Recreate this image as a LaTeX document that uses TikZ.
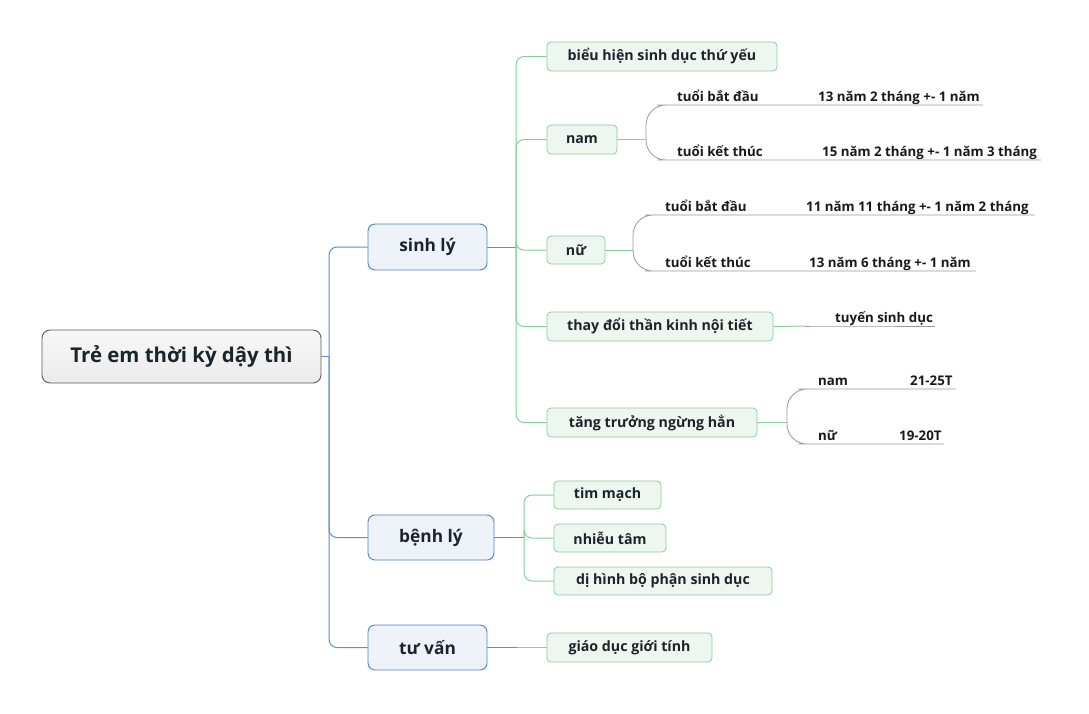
\documentclass[tikz,border=0pt]{standalone}
\usepackage{fontspec}
\setmainfont{Open Sans}
\usetikzlibrary{calc}
\definecolor{txt}{HTML}{1A252B}
\definecolor{bline}{HTML}{5B8FCF}
\definecolor{bdraw}{HTML}{4F82C0}
\definecolor{bfill}{HTML}{EEF3FA}
\definecolor{gline}{HTML}{86CF9C}
\definecolor{gdraw}{HTML}{8CCB9E}
\definecolor{gfill}{HTML}{EEF6F0}
\definecolor{grayline}{HTML}{9A9A9A}
\tikzset{
  rootbox/.style={draw=black!65, line width=0.9pt, rounded corners=8pt, top color=black!3, bottom color=black!8, font=\fontsize{20.4}{24}\selectfont\bfseries, text=txt, inner sep=0pt},
  bluebox/.style={draw=bdraw, line width=0.9pt, rounded corners=7pt, fill=bfill, font=\fontsize{17.3}{20}\selectfont\bfseries, text=txt, inner sep=0pt},
  greenbox/.style={draw=gdraw, line width=0.8pt, rounded corners=4pt, fill=gfill, font=\fontsize{14.2}{17}\selectfont\bfseries, text=txt, inner sep=0pt},
  graylab/.style={anchor=south west, inner xsep=0pt, inner ysep=0pt, text depth=3pt, font=\fontsize{13.3}{15}\selectfont\bfseries, text=black!90},
  blink/.style={draw=bline, line width=1pt, rounded corners=8pt},
  glink/.style={draw=gline, line width=1pt, rounded corners=8pt},
  graylink/.style={draw=grayline, line width=0.8pt, rounded corners=20pt},
}
\begin{document}
\begin{tikzpicture}[x=1pt,y=-1pt]
\useasboundingbox (0,0) rectangle (1089,713);
% root and level 1
\node[rootbox, minimum width=279pt, minimum height=53pt] (root) at (181.5,356.5) {Trẻ em thời kỳ dậy thì};
\node[bluebox, minimum width=119pt, minimum height=46pt] (sl) at (427.5,247) {sinh lý};
\node[bluebox, minimum width=126pt, minimum height=45pt] (bl) at (431,537.5) {bệnh lý};
\node[bluebox, minimum width=119pt, minimum height=45pt] (tv) at (427.5,647.5) {tư vấn};
% level 2
\node[greenbox, minimum width=230pt, minimum height=29pt] (bh) at (662,56.5) {biểu hiện sinh dục thứ yếu};
\node[greenbox, minimum width=70pt, minimum height=29pt] (nam) at (582,139.5) {nam};
\node[greenbox, minimum width=58pt, minimum height=28pt] (nu) at (576,250) {nữ};
\node[greenbox, minimum width=226pt, minimum height=29pt] (td) at (660,326.5) {thay đổi thần kinh nội tiết};
\node[greenbox, minimum width=210pt, minimum height=29pt] (tt) at (652,422.5) {tăng trưởng ngừng hẳn};
\node[greenbox, minimum width=107pt, minimum height=28pt] (tm) at (607.5,495) {tim mạch};
\node[greenbox, minimum width=112pt, minimum height=28pt] (nt) at (610,538) {nhiễu tâm};
\node[greenbox, minimum width=218pt, minimum height=28pt] (dh) at (663,581) {dị hình bộ phận sinh dục};
\node[greenbox, minimum width=165pt, minimum height=29pt] (gd) at (629.5,647.5) {giáo dục giới tính};
% level 3 labels
\node[graylab] (n1) at (677,105) {tuổi bắt đầu};
\node[graylab] (n1v) at (818,105) {13 năm 2 tháng +- 1 năm};
\node[graylab] (n2) at (677,160) {tuổi kết thúc};
\node[graylab] (n2v) at (822,160) {15 năm 2 tháng +- 1 năm 3 tháng};
\node[graylab] (f1) at (665,215) {tuổi bắt đầu};
\node[graylab] (f1v) at (806,215) {11 năm 11 tháng +- 1 năm 2 tháng};
\node[graylab] (f2) at (665,271) {tuổi kết thúc};
\node[graylab] (f2v) at (809,271) {13 năm 6 tháng +- 1 năm};
\node[graylab] (ts) at (835,326) {tuyến sinh dục};
\node[graylab] (g1) at (818,389) {nam};
\node[graylab] (g1v) at (910,389) {21-25T};
\node[graylab] (g2) at (818,444) {nữ};
\node[graylab] (g2v) at (899,444) {19-20T};
% junctions
\coordinate (rj) at (329,356.5);
\coordinate (sj) at (516,247);
\coordinate (bj) at (524,537.5);
\coordinate (namj) at (646,139.5);
\coordinate (nuj) at (633,250);
\coordinate (tdj) at (805,326);
\coordinate (ttj) at (787,422.5);
% blue links
\draw[blink] (root.east) -- (rj);
\draw[blink] (rj) |- (sl.west);
\draw[blink] (rj) |- (bl.west);
\draw[blink] (rj) |- (tv.west);
\draw[blink] (sl.east) -- (sj);
\draw[blink] (bl.east) -- (bj);
\draw[draw=bline, line width=1pt] (tv.east) -- ($(tv.east)+(30,0)$) coordinate (tvj);
% green links
\foreach \c in {bh,nam,nu,td,tt} \draw[glink] (sj) |- (\c.west);
\foreach \c in {tm,nt,dh} \draw[glink] (bj) |- (\c.west);
\draw[glink] (tvj) -- (gd.west);
\draw[glink] (nam.east) -- (namj);
\draw[glink] (nu.east) -- (nuj);
\draw[glink] (td.east) -- (tdj);
\draw[glink] (tt.east) -- (ttj);
% gray links
\draw[graylink] (namj) |- (n1.south west) -- ($(n1v.south east)+(3,0)$);
\draw[graylink] (namj) |- (n2.south west) -- ($(n2v.south east)+(4,0)$);
\draw[graylink] (nuj) |- (f1.south west) -- ($(f1v.south east)+(6,0)$);
\draw[graylink] (nuj) |- (f2.south west) -- ($(f2v.south east)+(5,0)$);
\draw[graylink] (tdj) -- (ts.south west) -- ($(ts.south east)+(2,0)$);
\draw[graylink] (ttj) |- (g1.south west) -- ($(g1v.south east)+(3,0)$);
\draw[graylink] (ttj) |- (g2.south west) -- ($(g2v.south east)+(2,0)$);
\end{tikzpicture}
\end{document}
